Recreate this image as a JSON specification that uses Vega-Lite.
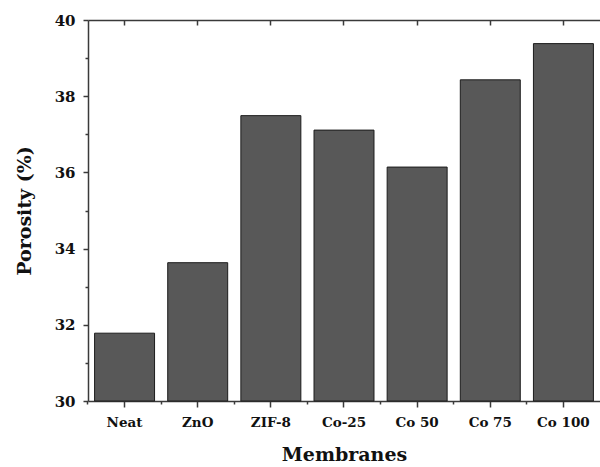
{
  "$schema": "https://vega.github.io/schema/vega-lite/v6.json",
  "width": 512,
  "height": 381,
  "autosize": {"type": "none"},
  "padding": {"left": 88, "top": 20, "right": 0, "bottom": 66},
  "background": "white",
  "config": {
    "view": {"stroke": null},
    "font": "DejaVu Serif",
    "axis": {"grid": false, "zindex": 1, "domainColor": "#3a3a3a", "domainWidth": 1.5, "tickColor": "#3a3a3a", "tickWidth": 1.5, "labelColor": "#111111", "titleColor": "#111111", "labelFont": "DejaVu Serif", "titleFont": "DejaVu Serif", "labelFontWeight": "bold", "titleFontWeight": "bold"}
  },
  "data": {
    "values": [
      {"membrane": "Neat", "porosity": 31.78},
      {"membrane": "ZnO", "porosity": 33.63},
      {"membrane": "ZIF-8", "porosity": 37.49},
      {"membrane": "Co-25", "porosity": 37.11},
      {"membrane": "Co 50", "porosity": 36.14},
      {"membrane": "Co 75", "porosity": 38.43},
      {"membrane": "Co 100", "porosity": 39.38}
    ]
  },
  "resolve": {"axis": {"x": "independent"}},
  "layer": [
    {
      "mark": {"type": "bar", "fill": "#585858", "stroke": "#1c1c1c", "strokeWidth": 1},
      "encoding": {
        "x": {
          "field": "membrane", "type": "nominal", "sort": null,
          "scale": {"paddingInner": 0.18, "paddingOuter": 0.09},
          "axis": {"orient": "bottom", "labelAngle": 0, "labelFontSize": 13.5, "labelPadding": 8, "tickSize": 6, "title": "Membranes", "titleFontSize": 19, "titlePadding": 17}
        },
        "y": {
          "field": "porosity", "type": "quantitative",
          "scale": {"domain": [30, 40], "nice": false, "zero": false},
          "axis": {
            "values": [30, 31, 32, 33, 34, 35, 36, 37, 38, 39, 40],
            "labelExpr": "datum.value % 2 == 0 ? datum.label : ''",
            "tickSize": {"condition": {"test": "datum.value % 2 == 1", "value": 3}, "value": 5},
            "labelFontSize": 15, "labelPadding": 8,
            "title": "Porosity (%)", "titleFontSize": 19, "titlePadding": 20
          }
        },
        "y2": {"datum": 30}
      }
    },
    {
      "mark": {"type": "bar", "opacity": 0},
      "encoding": {
        "x": {
          "field": "membrane", "type": "nominal", "sort": null,
          "axis": {"orient": "bottom", "bandPosition": -0.11, "tickSize": 3, "labels": false, "domain": false, "title": null}
        }
      }
    },
    {
      "mark": {"type": "bar", "opacity": 0},
      "encoding": {
        "x": {
          "field": "membrane", "type": "nominal", "sort": null,
          "axis": {"orient": "top", "tickSize": -5, "labels": false, "domain": true, "title": null}
        }
      }
    }
  ]
}
